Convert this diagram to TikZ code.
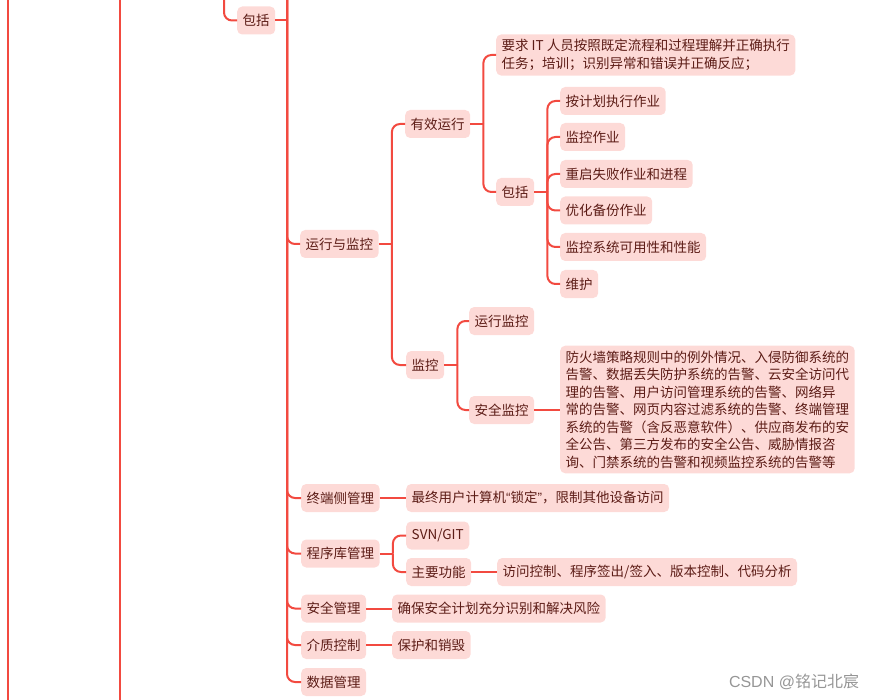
\documentclass[tikz,border=0pt]{standalone}
\usepackage{fontspec}
\setmainfont{Noto Sans CJK SC}
\newfontfamily\latinf{Liberation Sans}
\definecolor{linec}{RGB}{242,74,64}
\definecolor{boxfill}{RGB}{253,218,215}
\definecolor{txt}{RGB}{92,28,22}
\definecolor{wm}{RGB}{150,150,150}
\tikzset{
  box/.style={fill=boxfill, rounded corners=5pt, text=txt, inner xsep=5.5pt, inner ysep=0pt,
    minimum height=28pt, anchor=west, font=\fontsize{13.5}{17.5}\selectfont},
  mbox/.style={box, align=left, inner ysep=5pt},
  conn/.style={draw=linec, line width=2pt, rounded corners=8pt},
}
\begin{document}
\begin{tikzpicture}[x=1pt,y=-1pt]
\useasboundingbox (0,0) rectangle (877,700);
% ancestor spines
\coordinate (a1t) at (8,0);   \coordinate (a1b) at (8,700);
\coordinate (a2t) at (120,0); \coordinate (a2b) at (120,700);
\coordinate (a3t) at (224,0);
\coordinate (sp1) at (287,0);
\draw[conn] (a1t) -- (a1b);
\draw[conn] (a2t) -- (a2b);

% nodes
\node[box] (bk) at (237,20.5) {包括};
\node[box] (yxjk) at (300,244) {运行与监控};
\node[box] (yxyx) at (405,124) {有效运行};
\node[mbox] (yq) at (496,55) {要求 IT 人员按照既定流程和过程理解并正确执行\\任务；培训；识别异常和错误并正确反应；};
\node[box] (bk2) at (496,192) {包括};
\node[box] (c1) at (560,101) {按计划执行作业};
\node[box] (c2) at (560,137) {监控作业};
\node[box] (c3) at (560,174) {重启失败作业和进程};
\node[box] (c4) at (560,210.5) {优化备份作业};
\node[box] (c5) at (560,247) {监控系统可用性和性能};
\node[box] (c6) at (560,284) {维护};
\node[box] (jk) at (406,365) {监控};
\node[box] (yxjk2) at (469,321) {运行监控};
\node[box] (aqjk) at (469,410) {安全监控};
\node[mbox] (big) at (560,409.5) {防火墙策略规则中的例外情况、入侵防御系统的\\告警、数据丢失防护系统的告警、云安全访问代\\理的告警、用户访问管理系统的告警、网络异\\常的告警、网页内容过滤系统的告警、终端管理\\系统的告警（含反恶意软件）、供应商发布的安\\全公告、第三方发布的安全公告、威胁情报咨\\询、门禁系统的告警和视频监控系统的告警等};
\node[box] (zd) at (301,498) {终端侧管理};
\node[box] (zdt) at (406,498) {最终用户计算机{\latinf“}锁定{\latinf”}，限制其他设备访问};
\node[box] (cxk) at (301,553.5) {程序库管理};
\node[box] (svn) at (406,535.5) {SVN/GIT};
\node[box] (zygn) at (406,572) {主要功能};
\node[box] (fwkz) at (497,572) {访问控制、程序签出/签入、版本控制、代码分析};
\node[box] (aqgl) at (301,608.5) {安全管理};
\node[box] (qb) at (392,608.5) {确保安全计划充分识别和解决风险};
\node[box] (jzkz) at (301,645) {介质控制};
\node[box] (bh) at (392,645) {保护和销毁};
\node[box] (sjgl) at (301,682) {数据管理};

% connectors
\draw[conn] (a3t) |- (bk.west);
\draw[conn] (bk.east) -- (bk.east -| sp1);
\foreach \c in {yxjk,zd,cxk,aqgl,jzkz,sjgl} \draw[conn] (sp1) |- (\c.west);

\draw[conn] (yxjk.east) -- ++(13,0) coordinate (j1);
\foreach \c in {yxyx,jk} \draw[conn] (j1) |- (\c.west);

\draw[conn] (yxyx.east) -- ++(13,0) coordinate (j2);
\foreach \c in {yq,bk2} \draw[conn] (j2) |- (\c.west);

\draw[conn] (bk2.east) -- ++(13,0) coordinate (j3);
\foreach \c in {c1,c2,c3,c4,c5,c6} \draw[conn] (j3) |- (\c.west);

\draw[conn] (jk.east) -- ++(13,0) coordinate (j4);
\foreach \c in {yxjk2,aqjk} \draw[conn] (j4) |- (\c.west);
\draw[conn] (aqjk.east) -- (aqjk.east -| big.west);

\draw[conn] (zd.east) -- (zdt.west);
\draw[conn] (cxk.east) -- ++(13,0) coordinate (j5);
\foreach \c in {svn,zygn} \draw[conn] (j5) |- (\c.west);
\draw[conn] (zygn.east) -- (fwkz.west);
\draw[conn] (aqgl.east) -- (qb.west);
\draw[conn] (jzkz.east) -- (bh.west);

\node[text=wm, font=\fontsize{16}{18}\selectfont, anchor=center] (wmk) at (794,682) {{\latinf CSDN @}铭记北宸};
\end{tikzpicture}
\end{document}
